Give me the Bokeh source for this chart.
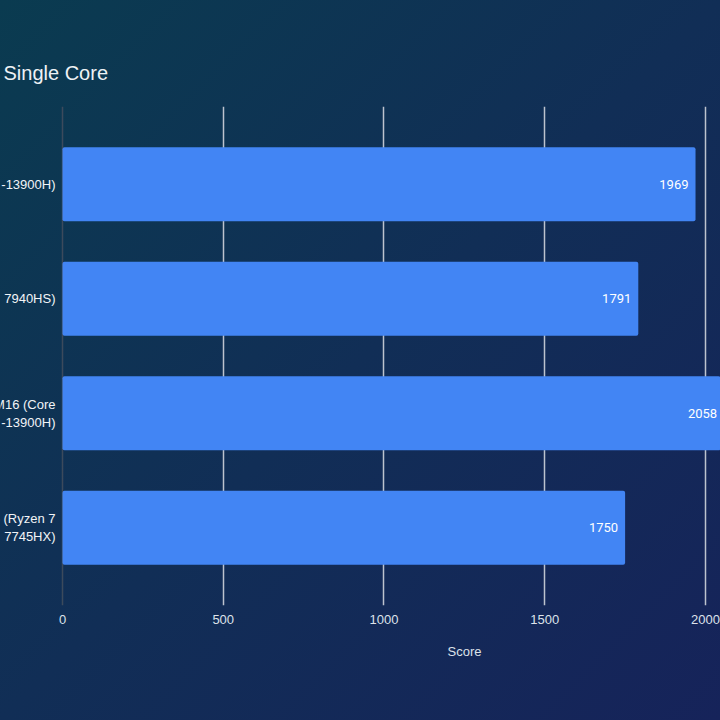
from bokeh.plotting import figure
from bokeh.models import Range1d, FactorRange, FixedTicker, Span, ColumnDataSource, Title
from bokeh.core.properties import value
from bokeh.embed import file_html
from bokeh.resources import INLINE

title_text = "Single Core"
categories = ["-13900H)", "7940HS)", "M16 (Core\n-13900H)", "5 (Ryzen 7\n7745HX)"]
scores = [1969, 1791, 2058, 1750]
x_ticks = [0, 500, 1000, 1500, 2000]
x_label = "Score"

src = ColumnDataSource(dict(cat=categories, score=scores,
                            lbl=[str(s) for s in scores], zero=[0] * len(scores)))

p = figure(width=720, height=720, output_backend="svg", toolbar_location=None,
           x_range=Range1d(-192.85, 2046.7),
           y_range=FactorRange(*categories[::-1], range_padding=0.18, range_padding_units="absolute"),
           min_border_left=0, min_border_right=0, min_border_top=106, min_border_bottom=115)

p.styles = {"background-image": "linear-gradient(135deg, #0a3b50 0%, #112e56 50%, #16235a 100%)"}
p.background_fill_color = None
p.border_fill_color = None
p.outline_line_color = None

p.hbar(y="cat", right="score", left=0, height=0.646, source=src,
       fill_color="#4285f4", line_color=None, border_radius=2)

# value labels
p.text(x="score", y="cat", text="lbl", source=src, x_offset=-7,
       text_align="right", text_baseline="middle", text_color="#ffffff",
       text_font=value("Roboto"), text_font_size="13px")

# category labels (left of the zero line)
p.text(x="zero", y="cat", text="cat", source=src, x_offset=-7,
       text_align="right", text_baseline="middle", text_color="#f2f4f7",
       text_font=value("Liberation Sans"), text_font_size="13px", text_line_height=1.2)

# grid
p.ygrid.grid_line_color = None
p.xgrid.ticker = FixedTicker(ticks=x_ticks[1:])
p.xgrid.grid_line_color = "#bcc3ce"
p.xgrid.grid_line_width = 1.5
p.add_layout(Span(location=x_ticks[0], dimension="height", line_color="#3c4a5c",
                  line_width=1.5, level="underlay"))

# x axis
p.xaxis.ticker = FixedTicker(ticks=x_ticks)
p.xaxis.axis_line_color = None
p.xaxis.major_tick_line_color = None
p.xaxis.minor_tick_line_color = None
p.xaxis.major_label_standoff = 3
p.xaxis.major_label_text_font = "Liberation Sans"
p.xaxis.major_label_text_font_size = "13px"
p.xaxis.major_label_text_color = "#dde2ea"

p.yaxis.visible = False

# title
p.title.text = title_text
p.title.align = "left"
p.title.offset = 3
p.title.standoff = 46
p.title.text_font = "Liberation Sans"
p.title.text_font_size = "20px"
p.title.text_font_style = "normal"
p.title.text_color = "#eef2f5"

p.add_layout(Title(text=x_label, align="left", offset=447, standoff=30,
                   text_font="Liberation Sans", text_font_size="13px",
                   text_font_style="normal", text_color="#dde2ea"), "below")

open("out.html", "w").write(file_html(p, INLINE))
